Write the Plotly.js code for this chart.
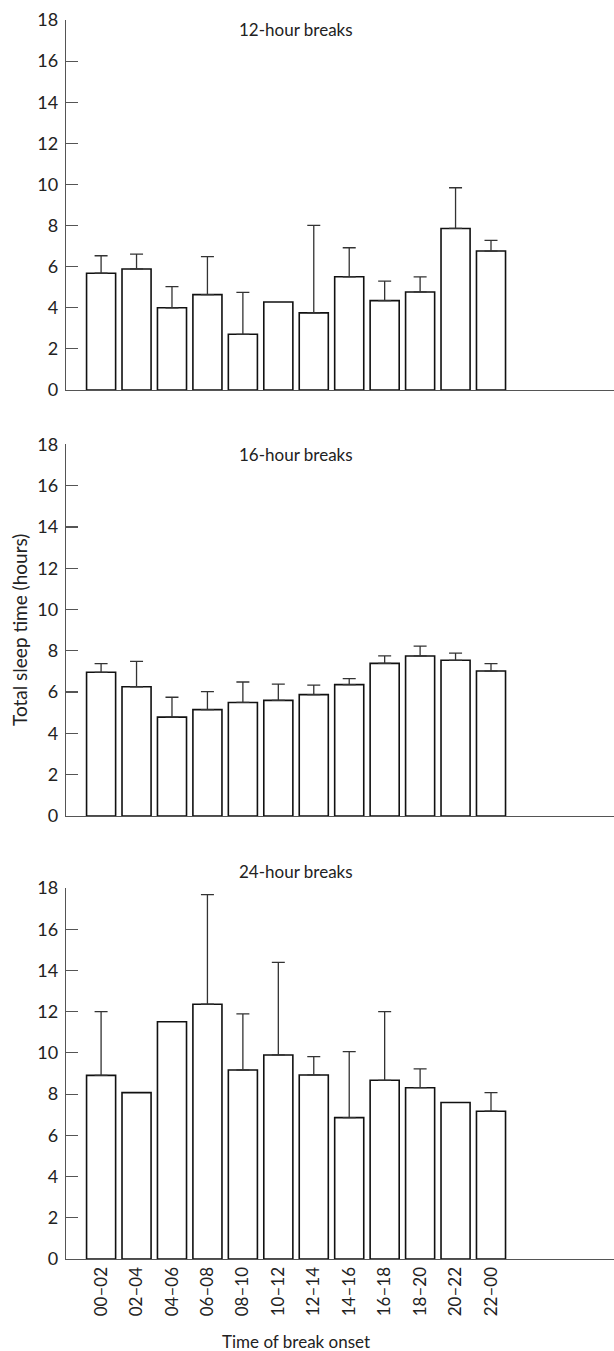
<!DOCTYPE html>
<html>
<head>
<meta charset="utf-8">
<script src="https://cdn.plot.ly/plotly-3.0.1.min.js"></script>
<style>html,body{margin:0;padding:0;background:#fff;}#chart{width:614px;height:1351px;}</style>
</head>
<body>
<div id="chart"></div>
<script>
var categories = ["00–02","02–04","04–06","06–08","08–10","10–12","12–14","14–16","16–18","18–20","20–22","22–00"];
var panelTitles = ["12-hour breaks","16-hour breaks","24-hour breaks"];
var means12 = [5.68, 5.89, 4.00, 4.64, 2.71, 4.28, 3.75, 5.51, 4.35, 4.77, 7.86, 6.76];
var err12   = [0.85, 0.72, 1.03, 1.85, 2.04, null, 4.26, 1.41, 0.95, 0.73, 1.98, 0.52];
var means16 = [6.96, 6.26, 4.79, 5.15, 5.50, 5.60, 5.88, 6.36, 7.39, 7.75, 7.54, 7.02];
var err16   = [0.42, 1.23, 0.96, 0.87, 0.99, 0.79, 0.46, 0.29, 0.36, 0.48, 0.35, 0.36];
var means24 = [8.91, 8.07, 11.51, 12.36, 9.17, 9.90, 8.93, 6.86, 8.67, 8.31, 7.59, 7.17];
var err24   = [3.09, null, null, 5.32, 2.72, 4.49, 0.89, 3.20, 3.33, 0.91, null, 0.90];
var yTicks = [0, 2, 4, 6, 8, 10, 12, 14, 16, 18];

var FONT = "Lato, 'Noto Sans', sans-serif";
var idx = categories.map(function(_, i){ return i; });

function barTrace(means, errs, n) {
  var s = n === 1 ? "" : String(n);
  return {
    type: "bar",
    x: idx,
    y: means,
    xaxis: "x" + s,
    yaxis: "y" + s,
    width: 0.82,
    marker: {color: "#ffffff", line: {color: "#111111", width: 1.6}},
    error_y: {
      type: "data",
      symmetric: false,
      array: errs.map(function(e){ return e == null ? NaN : e; }),
      arrayminus: errs.map(function(e){ return e == null ? NaN : 0; }),
      color: "#333333",
      thickness: 1.3,
      width: 6.5
    },
    hoverinfo: "skip",
    showlegend: false
  };
}

var data = [barTrace(means12, err12, 1), barTrace(means16, err16, 2), barTrace(means24, err24, 3)];

var H = 1351, W = 614;
function py(px) { return (H - px) / H; }
var xdom = [66 / W, 1];
var xr = [-0.99, 14.47];

function xaxis(showLabels) {
  return {
    domain: xdom, range: xr, fixedrange: true,
    showline: true, linecolor: "#555555", linewidth: 1.2,
    showgrid: false, zeroline: false,
    ticks: "", tickmode: "array", tickvals: idx, ticktext: categories,
    showticklabels: showLabels, tickangle: -90,
    tickfont: {family: FONT, size: 17, color: "#222"},
    automargin: false
  };
}
function yaxis(dom, anchor) {
  return {
    domain: dom, range: [0, 18], fixedrange: true, anchor: anchor,
    showline: true, linecolor: "#555555", linewidth: 1.2,
    showgrid: false, zeroline: false,
    ticks: "inside", ticklen: 12, tickwidth: 1.2, tickcolor: "#555555",
    tickmode: "array", tickvals: yTicks,
    ticklabelstandoff: 3,
    tickfont: {family: FONT, size: 18, color: "#222"},
    automargin: false
  };
}

function ann(text, xref, x, ypx, size, angle) {
  return {text: text, xref: xref, yref: "paper", x: x, y: py(ypx), xanchor: "center", yanchor: "middle",
          textangle: angle || 0, showarrow: false, font: {family: FONT, size: size, color: "#222"}};
}

var layout = {
  width: W, height: H,
  margin: {l: 0, r: 0, t: 0, b: 0},
  paper_bgcolor: "#fff", plot_bgcolor: "#fff",
  bargap: 0,
  showlegend: false,
  xaxis: Object.assign(xaxis(false), {anchor: "y"}),
  xaxis2: Object.assign(xaxis(false), {anchor: "y2"}),
  xaxis3: Object.assign(xaxis(true), {anchor: "y3"}),
  yaxis: yaxis([py(390), py(20)], "x"),
  yaxis2: yaxis([py(816), py(444.3)], "x2"),
  yaxis3: yaxis([py(1259), py(888)], "x3"),
  annotations: [
    ann(panelTitles[0], "x", 5.5, 29, 17),
    ann(panelTitles[1], "x2", 5.5, 454, 17),
    ann(panelTitles[2], "x3", 5.5, 872, 17),
    ann("Total sleep time (hours)", "paper", 19 / W, 630, 19, -90),
    ann("Time of break onset", "x3", 5.5, 1341, 17)
  ]
};

Plotly.newPlot("chart", data, layout, {staticPlot: true, displayModeBar: false});
</script>
</body>
</html>
